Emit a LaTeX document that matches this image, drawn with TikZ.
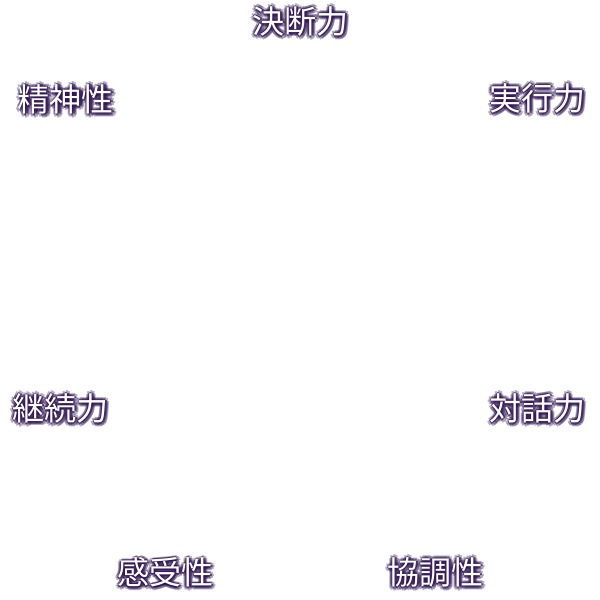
\documentclass[tikz,border=0pt]{standalone}
\usepackage{fontspec}
\newfontfamily\cjk{Noto Sans CJK JP}
\definecolor{glow}{HTML}{2E1452}
\tikzset{
  lbl/.style={font=\cjk\fontsize{16}{16}\selectfont, inner sep=0pt, text=white},
  shd/.style={lbl, text=glow, text opacity=#1},
}
\newcommand{\glowlabel}[3]{%
  \foreach \dx/\dy in {0/1.6,1.1/1.1,1.6/0,1.1/-1.1,0/-1.6,-1.1/-1.1,-1.6/0,-1.1/1.1}{
    \node[shd=0.35] at ([shift={(\dx pt+0.5pt,\dy pt-0.5pt)}]#2) {#3};
  }
  \foreach \dx/\dy in {0/0.8,0.8/0,0/-0.8,-0.8/0}{
    \node[shd=0.7] at ([shift={(\dx pt+0.4pt,\dy pt-0.4pt)}]#2) {#3};
  }
  \node[lbl] (#1) at (#2) {#3};
}
\begin{document}
\begin{tikzpicture}[x=0.5pt,y=-0.5pt]
\fill[white] (0,0) rectangle (600,600);
\useasboundingbox (0,0) rectangle (600,600);
\glowlabel{a}{300,21}{決断力}
\glowlabel{b}{66,99}{精神性}
\glowlabel{c}{537,98}{実行力}
\glowlabel{d}{60,408}{継続力}
\glowlabel{e}{537,408}{対話力}
\glowlabel{f}{165,572}{感受性}
\glowlabel{g}{435,572}{協調性}
\end{tikzpicture}
\end{document}
